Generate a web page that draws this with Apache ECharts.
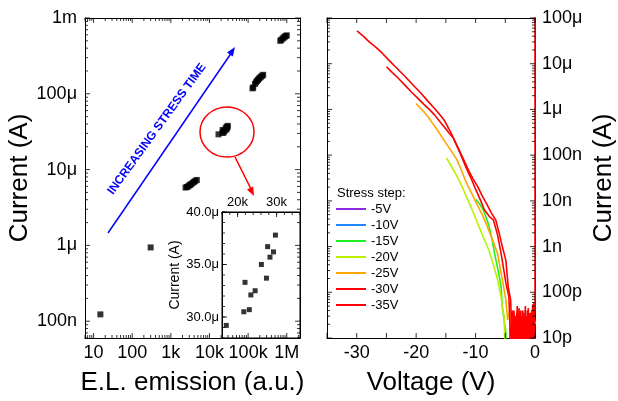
<!DOCTYPE html>
<html>
<head>
<meta charset="utf-8">
<script src="https://cdn.jsdelivr.net/npm/echarts@6/dist/echarts.min.js"></script>
<style>
html, body { margin: 0; padding: 0; background: #fff; }
#chart { width: 618px; height: 401px; }
</style>
</head>
<body>
<div id="chart"></div>
<script>
// left panel: current vs E.L. emission (log-log), clusters of stress points
var singleEmission = [15, 300];
var singleCurrent = [1.23e-7, 0.94e-6];
var cluster1Emission = [2400, 2600, 2800, 3000, 3200, 3400, 3700, 4000, 4300, 4700];
var cluster1Current = [5.8e-6, 5.9e-6, 6.0e-6, 6.2e-6, 6.3e-6, 6.5e-6, 6.7e-6, 6.9e-6, 7.1e-6, 7.3e-6];
// zoomed cluster (also shown in inset)
var insetEmission = [17100, 21600, 21900, 23000, 23400, 24500, 26100, 27400, 27700, 28300, 29200, 29700];
var insetCurrent = [29.2e-6, 30.5e-6, 33.3e-6, 30.7e-6, 32.1e-6, 32.5e-6, 35.0e-6, 33.7e-6, 36.7e-6, 35.7e-6, 36.2e-6, 37.8e-6];
var cluster3Emission = [130e3, 135e3, 150e3, 160e3, 170e3, 180e3, 190e3, 200e3, 215e3, 230e3, 245e3];
var cluster3Current = [118e-6, 121e-6, 135e-6, 142e-6, 148e-6, 153e-6, 158e-6, 163e-6, 168e-6, 173e-6, 178e-6];
var cluster4Emission = [680e3, 720e3, 780e3, 830e3, 880e3, 940e3, 1000e3];
var cluster4Current = [500e-6, 515e-6, 535e-6, 550e-6, 565e-6, 578e-6, 590e-6];

// tick labels
var emissionTicks = [10, 100, 1e3, 1e4, 1e5, 1e6];
var emissionLabels = ['10', '100', '1k', '10k', '100k', '1M'];
var currentTicksL = [1e-7, 1e-6, 1e-5, 1e-4, 1e-3];
var currentLabelsL = ['100n', '1\u03bc', '10\u03bc', '100\u03bc', '1m'];
var insetEmissionTicks = [20000, 30000];
var insetEmissionLabels = ['20k', '30k'];
var insetCurrentTicks = [30e-6, 35e-6, 40e-6];
var insetCurrentLabels = ['30.0\u03bc', '35.0\u03bc', '40.0\u03bc'];
var currentTicksR = [1e-11, 1e-10, 1e-9, 1e-8, 1e-7, 1e-6, 1e-5, 1e-4];
var currentLabelsR = ['10p', '100p', '1n', '10n', '100n', '1\u03bc', '10\u03bc', '100\u03bc'];
var voltageTicks = [-30, -20, -10, 0];
var voltageLabels = ['-30', '-20', '-10', '0'];

// right panel: I-V sweeps after each stress step
var stressSteps = ['-5V', '-10V', '-15V', '-20V', '-25V', '-30V', '-35V'];
var v5 = [-1.5, -1.0, -0.5, 0];
var i5 = [1e-12, 2e-11, 1e-12, 2.5e-11];
var v10 = [-5.0, -4.2, -3.8, -3.4, -3.0, -2.6, -2.2, -1.8, -1.4, -1.0, -0.6, -0.2, 0];
var i10 = [1e-12, 1e-12, 2e-11, 1e-12, 2.5e-11, 3e-11, 1.5e-11, 3.5e-11, 2e-11, 3e-11, 1e-12, 3e-11, 2e-11];
var v15 = [-10.0, -9.3, -8.7, -8.2, -7.7, -7.2, -6.8, -6.2, -5.7, -5.5, -4.9, -4.85, 0];
var i15 = [1.07e-8, 8.5e-9, 6.3e-9, 4.2e-9, 2.7e-9, 1.4e-9, 7e-10, 3e-10, 1.3e-10, 4.8e-11, 1.3e-11, 1e-12, 1e-12];
var v20 = [-14.9, -14.0, -13.1, -12.3, -11.5, -10.8, -10.1, -9.4, -8.7, -7.7, -7.0, -6.3, -5.7, -5.5, -5.2, -4.9];
var i20 = [8.7e-8, 5.5e-8, 3.4e-8, 2.1e-8, 1.2e-8, 7.5e-9, 4.5e-9, 2.7e-9, 1.6e-9, 8e-10, 4e-10, 1.9e-10, 7.9e-11, 4.8e-11, 3e-11, 1e-12];
var v25 = [-20.0, -19.0, -18.0, -17.2, -16.4, -15.3, -14.2, -13.1, -12.3, -11.5, -10.8, -10.1, -9.4, -8.7, -7.9, -7.1, -6.3, -5.5, -4.9,
  -4.6, -4.3, -3.9, -3.6, -3.2, -2.9, -2.5, -2.1, -1.7, -1.3, -0.9, -0.5, 0];
var i25 = [1.35e-6, 9.8e-7, 6.9e-7, 4.9e-7, 3.5e-7, 2.1e-7, 1.3e-7, 7.8e-8, 4.4e-8, 2.4e-8, 1.6e-8, 1.04e-8, 6.8e-9, 4.5e-9, 2.5e-9, 1.35e-9, 7e-10, 1.9e-10, 6.8e-11,
  2.5e-11, 4e-11, 1e-12, 3e-11, 2e-11, 4e-11, 1e-12, 3.5e-11, 2.5e-11, 1e-12, 3e-11, 4e-11, 2e-11];
var v30 = [-25.0, -24.0, -23.0, -21.9, -20.8, -19.7, -18.6, -17.7, -16.9, -16.1, -15.3, -14.5, -13.7, -12.6, -11.5, -10.7, -10.0, -9.2, -8.5, -7.7, -7.0, -6.3, -5.7, -4.9, -4.4,
  -4.25, -4.1, -3.9, -3.8, -3.68, -3.55, -3.42, -3.3, -3.18, -3.05, -2.92, -2.8, -2.68, -2.55, -2.42, -2.3,
  -2.18, -2.05, -1.92, -1.8, -1.68, -1.55, -1.42, -1.3, -1.18, -1.05, -0.92, -0.8, -0.68, -0.55, -0.42, -0.3, -0.18, -0.05];
var i30 = [8.6e-6, 6.4e-6, 4.8e-6, 3.4e-6, 2.4e-6, 1.75e-6, 1.26e-6, 9.8e-7, 7.6e-7, 5.6e-7, 4.2e-7, 3.1e-7, 2.3e-7, 1.1e-7, 5e-8, 3e-8, 1.8e-8, 1.05e-8, 6.3e-9, 4.6e-9, 3.8e-9, 1.8e-9, 7e-10, 1.6e-10, 8e-11,
  3e-11, 1e-12, 3.5e-11, 1.2e-11, 1e-12, 4e-11, 2e-11, 1e-12, 2.5e-11, 3.5e-11, 1e-12, 2e-11, 4.5e-11, 1e-12, 1.5e-11, 3e-11,
  1e-12, 4e-11, 2e-11, 1e-12, 3e-11, 1.5e-11, 1e-12, 4e-11, 2.5e-11, 1e-12, 3.5e-11, 1.5e-11, 1e-12, 4e-11, 2e-11, 1e-12, 6e-11, 2.5e-11];
var v35 = [-29.95, -28.9, -27.9, -26.8, -25.7, -24.6, -23.5, -22.4, -21.3, -20.2, -19.1, -18.0, -16.9, -16.1, -15.3, -14.2, -13.1, -12.1, -11.2, -10.4, -9.6, -8.9, -8.2, -7.4, -6.6, -6.0, -5.5, -4.9, -4.5, -4.1,
  -3.95, -3.85, -3.75, -3.62, -3.5, -3.38, -3.25, -3.12, -3.0, -2.88, -2.75, -2.62, -2.5, -2.38, -2.25, -2.12, -2.0,
  -1.88, -1.75, -1.62, -1.5, -1.38, -1.25, -1.12, -1.0, -0.88, -0.75, -0.62, -0.5, -0.38, -0.25, -0.12, 0, 0];
var i35 = [5.2e-5, 4.0e-5, 3.0e-5, 2.3e-5, 1.7e-5, 1.2e-5, 8.6e-6, 6.2e-6, 4.4e-6, 3.1e-6, 2.2e-6, 1.5e-6, 1.05e-6, 7.9e-7, 5.9e-7, 3.2e-7, 1.6e-7, 8.5e-8, 4.7e-8, 3.0e-8, 2.0e-8, 1.3e-8, 8.9e-9, 5.6e-9, 3.8e-9, 1.9e-9, 1.0e-9, 5e-10, 1.3e-10, 6.8e-11,
  2e-11, 1e-12, 4e-11, 1.5e-11, 1e-12, 3e-11, 2e-11, 1e-12, 5e-11, 1.5e-11, 3e-11, 1e-12, 2.5e-11, 4e-11, 1e-12, 1.8e-11, 3.5e-11,
  1e-12, 2e-11, 5e-11, 1e-12, 3e-11, 1.5e-11, 4.5e-11, 1e-12, 2.5e-11, 3.5e-11, 1e-12, 2e-11, 5.5e-11, 1e-12, 3e-11, 4e-11, 1e-3];

var sweepVolts = [v5, v10, v15, v20, v25, v30, v35];
var sweepAmps = [i5, i10, i15, i20, i25, i30, i35];
var stepColors = ['#8a2be2', '#1e88ff', '#22ee22', '#bdf000', '#ffa500', '#ff0000', '#ff0000'];

var FONT = 'Liberation Sans';

function pairs(xs, ys) {
  return xs.map(function (x, k) { return [x, ys[k]]; });
}
function tickFormatter(ticks, labels) {
  return function (v) {
    for (var k = 0; k < ticks.length; k++) {
      if (Math.abs(ticks[k] - v) <= Math.abs(ticks[k]) * 1e-6 + 1e-15) return labels[k];
    }
    return '';
  };
}
// axis line + labels only; tick marks are drawn as thin rect symbols on the axes
function ax(o) {
  var a = {
    gridIndex: 0,
    axisLine: { show: true, onZero: false, lineStyle: { color: '#000', width: 1 } },
    axisTick: { show: false },
    splitLine: { show: false },
    axisLabel: { show: false, color: '#000', fontFamily: FONT, fontSize: 18, interval: 0, hideOverlap: false },
    nameTextStyle: { color: '#000', fontFamily: FONT, fontSize: 26 }
  };
  for (var key in o) {
    if (typeof o[key] === 'object' && a[key] && !Array.isArray(o[key])) {
      for (var k2 in o[key]) a[key][k2] = o[key][k2];
    } else a[key] = o[key];
  }
  return a;
}

function arrowHead(x1, y1, x2, y2, len, half) {
  var dx = x2 - x1, dy = y2 - y1, d = Math.sqrt(dx * dx + dy * dy);
  var ux = dx / d, uy = dy / d;
  var bx = x2 - ux * len, by = y2 - uy * len;
  return [[x2, y2], [bx - uy * half, by + ux * half], [bx + uy * half, by - ux * half]];
}

// tick positions
function logTickValues(lo, hi) {
  var major = [], minor = [];
  for (var e = Math.floor(Math.log10(lo)); e <= Math.ceil(Math.log10(hi)); e++) {
    for (var k = 1; k <= 9; k++) {
      var v = k * Math.pow(10, e);
      if (v < lo * 0.999999 || v > hi * 1.000001) continue;
      (k === 1 ? major : minor).push(v);
    }
  }
  return { major: major, minor: minor };
}
function stepValues(lo, hi, step) {
  var out = [];
  for (var v = lo; v <= hi + step * 1e-6; v += step) out.push(v);
  return out;
}
var mainX = logTickValues(6, 2.2e6);
var mainY = logTickValues(6e-8, 1e-3);
var rightY = logTickValues(1e-11, 1e-4);

var series = [
  {
    type: 'scatter', xAxisIndex: 0, yAxisIndex: 0, symbol: 'rect', symbolSize: 6,
    itemStyle: { color: '#000' },
    data: pairs(singleEmission, singleCurrent)
      .concat(pairs(cluster1Emission, cluster1Current))
      .concat(pairs(insetEmission, insetCurrent))
      .concat(pairs(cluster3Emission, cluster3Current))
      .concat(pairs(cluster4Emission, cluster4Current))
  },
  {
    type: 'scatter', xAxisIndex: 2, yAxisIndex: 2, symbol: 'rect', symbolSize: 5,
    itemStyle: { color: '#000' },
    data: pairs(insetEmission, insetCurrent)
  }
];
stressSteps.forEach(function (name, k) {
  series.push({
    name: name, type: 'line', xAxisIndex: 4, yAxisIndex: 4,
    showSymbol: false, symbol: 'none', clip: true,
    color: stepColors[k],
    lineStyle: { color: stepColors[k], width: 1.6 },
    data: pairs(sweepVolts[k], sweepAmps[k])
  });
});

// inward tick marks: thin rects sitting on an axis edge
function xTicks(xi, yi, values, edgeValue, len, dir) {
  series.push({
    type: 'scatter', xAxisIndex: xi, yAxisIndex: yi, silent: true, clip: false, z: 5,
    symbol: 'rect', symbolSize: [1, len], symbolOffset: [0, dir * len / 2],
    itemStyle: { color: '#000' },
    data: values.map(function (v) { return [v, edgeValue]; })
  });
}
function yTicks(xi, yi, values, edgeValue, len, dir) {
  series.push({
    type: 'scatter', xAxisIndex: xi, yAxisIndex: yi, silent: true, clip: false, z: 5,
    symbol: 'rect', symbolSize: [len, 1], symbolOffset: [dir * len / 2, 0],
    itemStyle: { color: '#000' },
    data: values.map(function (v) { return [edgeValue, v]; })
  });
}
// main panel
xTicks(0, 0, mainX.major, 6e-8, 5, -1);
xTicks(0, 0, mainX.minor, 6e-8, 3, -1);
xTicks(0, 0, mainX.major, 1e-3, 5, 1);
xTicks(0, 0, mainX.minor, 1e-3, 3, 1);
yTicks(0, 0, mainY.major, 6, 5, 1);
yTicks(0, 0, mainY.minor, 6, 3, 1);
yTicks(0, 0, mainY.major, 2.2e6, 5, -1);
yTicks(0, 0, mainY.minor, 2.2e6, 3, -1);
// inset
xTicks(3, 2, insetEmissionTicks, 40e-6, 5, 1);
xTicks(3, 2, stepValues(16000, 36000, 2000), 40e-6, 3, 1);
yTicks(3, 2, insetCurrentTicks, 16000, 5, 1);
yTicks(3, 2, stepValues(28e-6, 40e-6, 1e-6), 16000, 3, 1);
// right panel
xTicks(4, 4, stepValues(-35, 0, 5), 1e-11, 5, -1);
xTicks(4, 4, stepValues(-35, 0, 5), 1e-4, 5, 1);
yTicks(4, 4, rightY.major, -35, 5, 1);
yTicks(4, 4, rightY.minor, -35, 3, 1);
yTicks(4, 4, rightY.major, 0, 5, -1);
yTicks(4, 4, rightY.minor, 0, 3, -1);

var blueArrow = [108, 233, 235, 47];
var redArrow = [235, 157, 254, 196];

var option = {
  animation: false,
  textStyle: { fontFamily: FONT },
  grid: [
    { left: 85, right: 318, top: 18, bottom: 63 },
    { left: 222, right: 318, top: 212, bottom: 63, show: true, borderColor: '#000', borderWidth: 1, backgroundColor: 'transparent' },
    { left: 327, right: 77, top: 18, bottom: 63 }
  ],
  xAxis: [
    ax({ type: 'log', logBase: 10, min: 6, max: 2.2e6, position: 'bottom',
      name: 'E.L. emission (a.u.)', nameLocation: 'middle', nameGap: 32,
      axisLabel: { show: true, margin: 6, formatter: tickFormatter(emissionTicks, emissionLabels) } }),
    ax({ type: 'log', logBase: 10, min: 6, max: 2.2e6, position: 'top' }),
    ax({ gridIndex: 1, type: 'value', min: 16000, max: 36000, position: 'bottom' }),
    ax({ gridIndex: 1, type: 'value', min: 16000, max: 36000, interval: 2000, position: 'top',
      axisLabel: { show: true, fontSize: 13, margin: 3, formatter: tickFormatter(insetEmissionTicks, insetEmissionLabels) } }),
    ax({ gridIndex: 2, type: 'value', min: -35, max: 0, interval: 5, position: 'bottom',
      name: 'Voltage (V)', nameLocation: 'middle', nameGap: 32,
      axisLabel: { show: true, margin: 6, formatter: tickFormatter(voltageTicks, voltageLabels) } }),
    ax({ gridIndex: 2, type: 'value', min: -35, max: 0, interval: 5, position: 'top' })
  ],
  yAxis: [
    ax({ type: 'log', logBase: 10, min: 6e-8, max: 1e-3, position: 'left',
      name: 'Current (A)', nameLocation: 'middle', nameGap: 45, nameRotate: 90,
      axisLabel: { show: true, margin: 8, formatter: tickFormatter(currentTicksL, currentLabelsL) } }),
    ax({ type: 'log', logBase: 10, min: 6e-8, max: 1e-3, position: 'right' }),
    ax({ gridIndex: 1, type: 'value', min: 28e-6, max: 40e-6, interval: 1e-6, position: 'left',
      name: 'Current (A)', nameLocation: 'middle', nameGap: 37, nameRotate: 90,
      nameTextStyle: { fontSize: 14 },
      axisLabel: { show: true, fontSize: 13, margin: 3, formatter: tickFormatter(insetCurrentTicks, insetCurrentLabels) } }),
    ax({ gridIndex: 1, type: 'value', min: 28e-6, max: 40e-6, position: 'right', axisLine: { show: false } }),
    ax({ gridIndex: 2, type: 'log', logBase: 10, min: 1e-11, max: 1e-4, position: 'right',
      name: 'Current (A)', nameLocation: 'middle', nameGap: 56, nameRotate: 90,
      axisLabel: { show: true, margin: 7, formatter: tickFormatter(currentTicksR, currentLabelsR) } }),
    ax({ gridIndex: 2, type: 'log', logBase: 10, min: 1e-11, max: 1e-4, position: 'left' })
  ],
  legend: {
    data: stressSteps, orient: 'vertical', left: 336, top: 202, padding: 0,
    icon: 'rect', itemWidth: 30, itemHeight: 2, itemGap: 2,
    textStyle: { color: '#000', fontFamily: FONT, fontSize: 13, lineHeight: 14 }
  },
  graphic: [
    { type: 'line', shape: { x1: blueArrow[0], y1: blueArrow[1], x2: blueArrow[2] - 3, y2: blueArrow[3] + 5 },
      style: { stroke: '#0000ff', lineWidth: 1.5 } },
    { type: 'polygon', shape: { points: arrowHead(blueArrow[0], blueArrow[1], blueArrow[2], blueArrow[3], 9, 3.5) },
      style: { fill: '#0000ff' } },
    { type: 'text', x: 157, y: 129, rotation: 54 * Math.PI / 180,
      style: { text: 'INCREASING STRESS TIME', fill: '#0000ff', font: 'bold 12px "Liberation Sans"', align: 'center', verticalAlign: 'middle' } },
    { type: 'ellipse', shape: { cx: 227, cy: 132, rx: 27, ry: 25 },
      style: { fill: 'none', stroke: '#ff0000', lineWidth: 1.5 } },
    { type: 'line', shape: { x1: redArrow[0], y1: redArrow[1], x2: redArrow[2] - 2, y2: redArrow[3] - 5 },
      style: { stroke: '#ff0000', lineWidth: 1.5 } },
    { type: 'polygon', shape: { points: arrowHead(redArrow[0], redArrow[1], redArrow[2], redArrow[3], 9, 3.5) },
      style: { fill: '#ff0000' } },
    { type: 'text', x: 337, y: 193,
      style: { text: 'Stress step:', fill: '#000', font: '13px "Liberation Sans"', align: 'left', verticalAlign: 'middle' } }
  ],
  series: series
};

var chart = echarts.init(document.getElementById('chart'));
chart.setOption(option);
</script>
</body>
</html>
